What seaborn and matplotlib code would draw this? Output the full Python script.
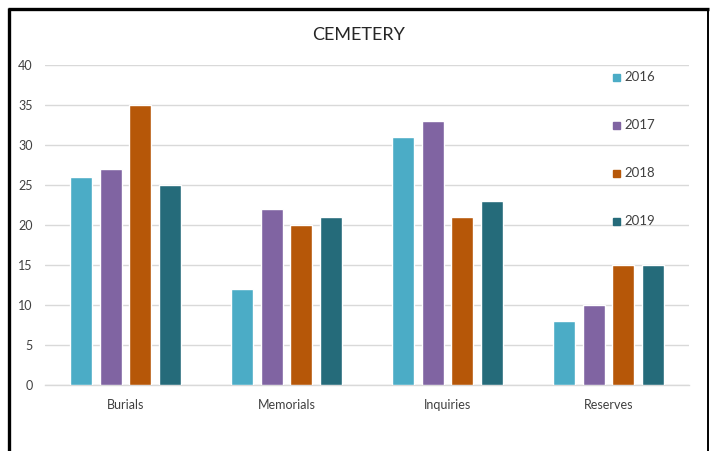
import matplotlib
matplotlib.use("Agg")
import matplotlib.pyplot as plt
import seaborn as sns
import pandas as pd
from matplotlib.lines import Line2D

categories = ["Burials", "Memorials", "Inquiries", "Reserves"]
years = ["2016", "2017", "2018", "2019"]
values_2016 = [26, 12, 31, 8]
values_2017 = [27, 22, 33, 10]
values_2018 = [35, 20, 21, 15]
values_2019 = [25, 21, 23, 15]
palette = ["#4BACC6", "#8064A2", "#B65708", "#256B7A"]

rows = []
for year, vals in zip(years, [values_2016, values_2017, values_2018, values_2019]):
    for cat, v in zip(categories, vals):
        rows.append({"Category": cat, "Year": year, "Count": v})
df = pd.DataFrame(rows)

sns.set_theme(style="white")
plt.rcParams["font.family"] = ["Lato", "DejaVu Sans"]

fig = plt.figure(figsize=(7.14, 4.51), dpi=100)
ax = fig.add_axes([45 / 714, 1 - 385 / 451, 644 / 714, 320 / 451])

sns.barplot(data=df, x="Category", y="Count", hue="Year", order=categories,
            hue_order=years, palette=palette, width=0.735, gap=0.25,
            saturation=1, ax=ax, legend=False, zorder=3)

ax.set_xlim(-0.5, 3.5)
ax.set_ylim(0, 40)
ax.set_yticks(range(0, 41, 5))
ax.grid(axis="y", color="#D9D9D9", linewidth=1, zorder=0)
ax.grid(axis="x", visible=False)
for side in ["left", "right", "top"]:
    ax.spines[side].set_visible(False)
ax.spines["bottom"].set_color("#D9D9D9")
ax.spines["bottom"].set_linewidth(1)
ax.tick_params(axis="both", length=0, labelsize=9, colors="#404040")
ax.tick_params(axis="x", pad=10)
ax.tick_params(axis="y", pad=9)
ax.set_xlabel("")
ax.set_ylabel("")

fig.text(359 / 714, 1 - 35 / 451, "CEMETERY", ha="center", va="center",
         fontsize=13, color="#262626")

# legend entries stacked down the right side of the plot
leg_y = [77, 125, 173, 221]
for year, color, y in zip(years, palette, leg_y):
    fy = 1 - y / 451
    fig.patches.append(plt.Rectangle((613 / 714, fy - 3.5 / 451), 7 / 714, 7 / 451,
                                     transform=fig.transFigure, color=color, figure=fig))
    fig.text(624 / 714, fy, year, ha="left", va="center", fontsize=9.5, color="#404040")

# black frame around the chart
frame_kw = dict(transform=fig.transFigure, color="black", solid_capstyle="butt")
fig.lines.append(Line2D([9 / 714, 9 / 714], [0, 1 - 7.5 / 451], linewidth=2.4, **frame_kw))
fig.lines.append(Line2D([7.5 / 714, 708.5 / 714], [1 - 9 / 451, 1 - 9 / 451], linewidth=2.4, **frame_kw))
fig.lines.append(Line2D([707.5 / 714, 707.5 / 714], [0, 1 - 7.5 / 451], linewidth=1.4, **frame_kw))

fig.savefig("out.png", dpi=100, facecolor="white")
